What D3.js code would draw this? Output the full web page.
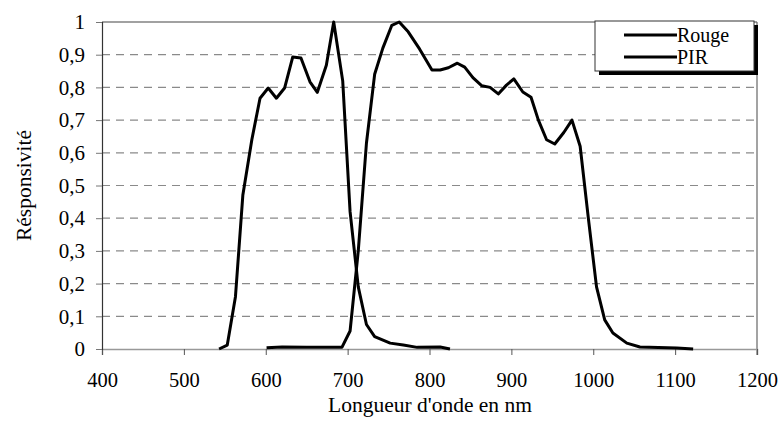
<!DOCTYPE html>
<html>
<head>
<meta charset="utf-8">
<script src="https://cdn.jsdelivr.net/npm/d3@7"></script>
<style>
  html, body { margin: 0; padding: 0; background: #fff; }
  svg { display: block; }
</style>
</head>
<body>
<svg id="chart" width="784" height="434"></svg>
<script>
// Data (wavelength in nm, responsivity)
const rougeNm = [543, 553, 563, 572, 583, 593, 603, 613, 623, 633, 643, 654, 663, 674, 683, 694, 703, 713, 723, 733, 752, 768, 785, 813, 825];
const rougeVal = [0, 0.012, 0.16, 0.47, 0.64, 0.767, 0.798, 0.767, 0.798, 0.893, 0.89, 0.817, 0.785, 0.868, 1.0, 0.82, 0.42, 0.19, 0.075, 0.038, 0.018, 0.012, 0.005, 0.006, 0];
const pirNm = [601, 620, 650, 693, 703, 713, 723, 733, 743, 754, 763, 774, 788, 803, 813, 823, 834, 843, 853, 864, 874, 884, 894, 903, 914, 924, 933, 943, 953, 964, 974, 984, 994, 1004, 1014, 1024, 1041, 1057, 1102, 1122];
const pirVal = [0.004, 0.006, 0.005, 0.005, 0.055, 0.3, 0.63, 0.84, 0.92, 0.99, 1.0, 0.97, 0.917, 0.853, 0.853, 0.86, 0.874, 0.862, 0.83, 0.805, 0.8, 0.78, 0.807, 0.826, 0.786, 0.77, 0.7, 0.64, 0.627, 0.662, 0.7, 0.62, 0.4, 0.19, 0.089, 0.049, 0.018, 0.006, 0.003, 0];
const xTicks = [400, 500, 600, 700, 800, 900, 1000, 1100, 1200];
const yTicks = [0, 0.1, 0.2, 0.3, 0.4, 0.5, 0.6, 0.7, 0.8, 0.9, 1];
const seriesNames = ["Rouge", "PIR"];
const xTitle = "Longueur d'onde en nm";
const yTitle = "Résponsivité";

const FONT = "'Liberation Serif', 'Times New Roman', serif";
const svg = d3.select("#chart");
const L = 102, R = 757, T = 22, B = 349;
const x = d3.scaleLinear().domain([400, 1200]).range([L, R]);
const y = d3.scaleLinear().domain([0, 1]).range([B, T]);
const fmt = v => String(+v.toFixed(1)).replace(".", ",");

// gridlines
svg.append("g").selectAll("line").data(yTicks.filter(v => v > 0 && v < 1)).join("line")
  .attr("x1", L).attr("x2", R).attr("y1", d => y(d)).attr("y2", d => y(d))
  .attr("stroke", "#8a8a8a").attr("stroke-width", 1.2).attr("stroke-dasharray", "8,6");

// top border & right border
svg.append("line").attr("x1", L).attr("x2", R).attr("y1", T).attr("y2", T)
  .attr("stroke", "#444").attr("stroke-width", 1.2);
svg.append("line").attr("x1", R).attr("x2", R).attr("y1", T).attr("y2", B + 6)
  .attr("stroke", "#666").attr("stroke-width", 1.2);

// x axis
const xAxis = d3.axisBottom(x).tickValues(xTicks).tickSize(6).tickPadding(17).tickFormat(d3.format("d"));
const gx = svg.append("g").attr("transform", `translate(0,${B})`).call(xAxis);
gx.select(".domain").attr("stroke", "#999").attr("stroke-width", 1.5);
gx.selectAll(".tick line").attr("stroke", "#555");
gx.selectAll("text").attr("fill", "#000").style("font-family", FONT).style("font-size", "20.5px");

// y axis
const yAxis = d3.axisLeft(y).tickValues(yTicks).tickSize(6).tickPadding(11).tickFormat(fmt);
const gy = svg.append("g").attr("transform", `translate(${L},0)`).call(yAxis);
gy.select(".domain").attr("stroke", "#333").attr("stroke-width", 1.2);
gy.selectAll(".tick line").attr("stroke", "#777");
gy.selectAll("text").attr("fill", "#000").style("font-family", FONT).style("font-size", "21px");

// lines
const line = d3.line().x(d => x(d[0])).y(d => y(d[1]));
const rouge = rougeNm.map((n, i) => [n, rougeVal[i]]);
const pir = pirNm.map((n, i) => [n, pirVal[i]]);
[rouge, pir].forEach(s => {
  svg.append("path").datum(s).attr("d", line).attr("fill", "none")
    .attr("stroke", "#000").attr("stroke-width", 3).attr("stroke-linejoin", "round");
});

// titles
svg.append("text").attr("x", 430).attr("y", 412).attr("text-anchor", "middle")
  .style("font-family", FONT).style("font-size", "21.5px").text(xTitle);
svg.append("text").attr("transform", `translate(31,${(T + B) / 2}) rotate(-90)`)
  .attr("text-anchor", "middle").style("font-family", FONT).style("font-size", "21.5px").text(yTitle);

// legend
const lg = svg.append("g");
const lx = 595, ly = 21, lw = 159, lh = 50;
lg.append("rect").attr("x", lx + 4).attr("y", ly + 4).attr("width", lw).attr("height", lh).attr("fill", "#000");
lg.append("rect").attr("x", lx).attr("y", ly).attr("width", lw).attr("height", lh)
  .attr("fill", "#fff").attr("stroke", "#333").attr("stroke-width", 1);
seriesNames.forEach((name, i) => {
  const yy = ly + 14 + i * 22;
  lg.append("line").attr("x1", 624).attr("x2", 677).attr("y1", yy).attr("y2", yy)
    .attr("stroke", "#000").attr("stroke-width", 3);
  lg.append("text").attr("x", 677).attr("y", yy + 7).style("font-family", FONT).style("font-size", "20px").text(name);
});
</script>
</body>
</html>
